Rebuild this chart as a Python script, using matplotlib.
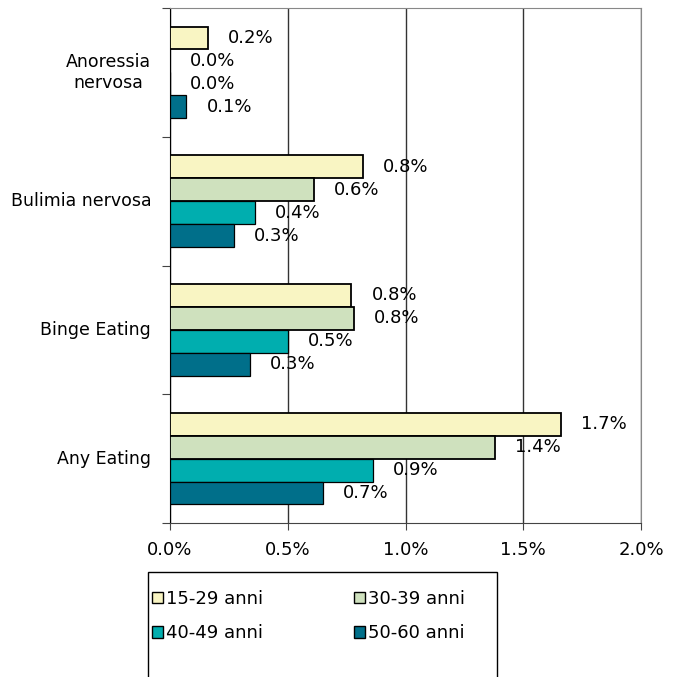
import matplotlib.pyplot as plt
from matplotlib.patches import Patch, Rectangle

categories = ["Anoressia\nnervosa", "Bulimia nervosa", "Binge Eating", "Any Eating"]
series_names = ["15-29 anni", "30-39 anni", "40-49 anni", "50-60 anni"]
colors = ["#F9F5C3", "#CFE1BE", "#00AEAF", "#006F8A"]

# valori in %, una lista per fascia d'età (ordine: categorie dall'alto)
v_15_29 = [0.16, 0.82, 0.77, 1.66]
v_30_39 = [0.0, 0.61, 0.78, 1.38]
v_40_49 = [0.0, 0.36, 0.50, 0.86]
v_50_60 = [0.07, 0.27, 0.34, 0.65]
series = [v_15_29, v_30_39, v_40_49, v_50_60]

xticks = [0.0, 0.5, 1.0, 1.5, 2.0]

fig = plt.figure(figsize=(6.75, 6.77), dpi=100)
ax = fig.add_axes([170 / 675, 1 - 523 / 677, 471 / 675, 515 / 677])

bar_h = 0.178
for j, (vals, col) in enumerate(zip(series, colors)):
    ys = [i + 0.5 + (j - 1.5) * bar_h for i in range(len(categories))]
    ax.barh(ys, vals, height=bar_h, color=col, edgecolor="black",
            linewidth=1.3 if j < 2 else 0.9, zorder=3)
    for y, v in zip(ys, vals):
        ax.annotate(f"{v:.1f}%", (v, y), xytext=(14.5, 0), textcoords="offset points",
                    ha="left", va="center", fontsize=13, zorder=4)

ax.set_xlim(0, 2.0)
ax.set_ylim(len(categories), 0)
ax.set_xticks(xticks)
ax.set_xticklabels([f"{t:.1f}%" for t in xticks], fontsize=13)
ax.tick_params(axis="x", direction="out", length=5, pad=8, color="#444444")

ax.set_yticks(range(len(categories) + 1))
ax.set_yticklabels([])
ax.tick_params(axis="y", direction="out", length=6, color="#444444")
for i, cat in enumerate(categories):
    ax.text(-0.08, i + 0.5, cat, ha="right", va="center", multialignment="center",
            fontsize=12.5, transform=ax.transData)

ax.grid(axis="x", color="#333333", linewidth=1.0, zorder=0)
for side in ["top", "right"]:
    ax.spines[side].set_color("#888888")
ax.spines["left"].set_color("black")
ax.spines["bottom"].set_color("#444444")

# legenda: riquadro che esce dal bordo inferiore come nell'originale
fig.add_artist(Rectangle((148 / 675, -0.05), 349 / 675, 1 - 572 / 677 + 0.05,
                         transform=fig.transFigure, facecolor="none",
                         edgecolor="black", linewidth=1.0))
order = [0, 2, 1, 3]
handles = [Patch(facecolor=colors[k], edgecolor="black", linewidth=1.0) for k in order]
fig.legend(handles, [series_names[k] for k in order], loc="upper left", ncol=2,
           bbox_to_anchor=(152 / 675, 1 - 590 / 677), fontsize=13,
           frameon=False, borderaxespad=0, borderpad=0,
           handlelength=0.6, handleheight=0.6, handletextpad=0.2,
           columnspacing=5.0, labelspacing=0.9)

fig.savefig("out.png", dpi=100)
